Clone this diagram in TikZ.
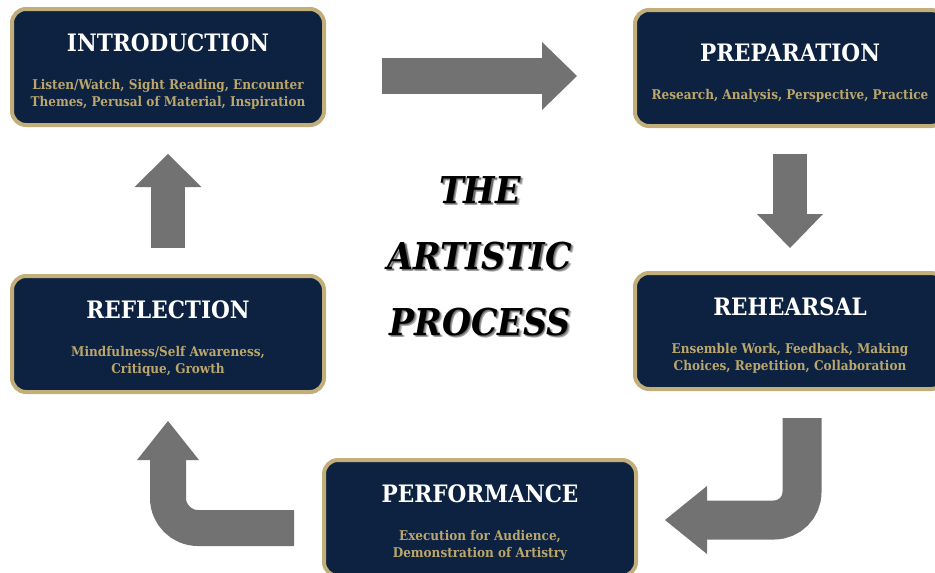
\documentclass[tikz,border=0pt]{standalone}
\usepackage{fontspec}
\usetikzlibrary{arrows.meta}
\newfontfamily\boxfont{DejaVu Serif Condensed}
\definecolor{navy}{HTML}{0C2240}
\definecolor{gold}{HTML}{C2AE78}
\definecolor{goldtext}{HTML}{BBA66C}
\definecolor{arrowgray}{HTML}{727272}
% white stage name; the strut pushes the text block a little down in its box
\newcommand{\stagetitle}[1]{{\fontsize{24}{26}\selectfont\color{white}\rule{0pt}{27pt}#1}}
\begin{document}
\begin{tikzpicture}[x=1pt,y=-1pt]
  \tikzset{stage/.style={draw=gold,fill=navy,line width=4pt,rounded corners=14pt,
      minimum width=312pt,minimum height=116pt,align=center,inner sep=0pt,
      font=\boxfont\fontsize{13.4}{17}\selectfont\bfseries\color{goldtext}},
    bigarrow/.style={draw=arrowgray,line cap=butt,line join=miter,rounded corners=#1},
    bigarrow/.default=0pt,
    heading/.style={align=center,font=\boxfont\fontsize{37}{66}\selectfont\bfseries\itshape}}
  \useasboundingbox (0,0) rectangle (935,573);
  \node[stage] (intro) at (168,67) {\stagetitle{INTRODUCTION}\\[21pt]
    Listen/Watch, Sight Reading, Encounter\\
    Themes, Perusal of Material, Inspiration};
  \node[stage,minimum width=310pt] (prep) at (790,68) {\stagetitle{PREPARATION}\\[21pt]
    Research, Analysis, Perspective, Practice};
  \node[stage,minimum width=310pt] (reh) at (790,331) {\stagetitle{REHEARSAL}\\[21pt]
    Ensemble Work, Feedback, Making\\
    Choices, Repetition, Collaboration};
  \node[stage] (refl) at (168,334) {\stagetitle{REFLECTION}\\[21pt]
    Mindfulness/Self Awareness,\\
    Critique, Growth};
  \node[stage] (perf) at (480,518) {\stagetitle{PERFORMANCE}\\[21pt]
    Execution for Audience,\\
    Demonstration of Artistry};
  % heading in the middle, with a soft drop shadow
  \foreach \dx/\op in {2.6/0.15,1.8/0.25,1.1/0.35}
    \node[heading,text=black,opacity=\op] (shade) at (480+\dx,256+\dx)
      {THE\\ARTISTIC\\PROCESS};
  \node[heading] (title) at (480,256) {THE\\ARTISTIC\\PROCESS};
  % arrow ends
  \coordinate (a1) at (382,76);  \coordinate (a2) at (577,76);
  \coordinate (b1) at (790,154); \coordinate (b2) at (790,248);
  \coordinate (c1) at (802,418); \coordinate (c2) at (802,520); \coordinate (c3) at (665,520);
  \coordinate (d1) at (294,528); \coordinate (d2) at (168,528); \coordinate (d3) at (168,421);
  \coordinate (e1) at (168,248); \coordinate (e2) at (168,154);
  \draw[bigarrow,line width=36pt,-{Triangle[width=68pt,length=35pt,line width=0pt,fill=arrowgray]}] (a1) -- (a2);
  \draw[bigarrow,line width=34pt,-{Triangle[width=66pt,length=34pt,line width=0pt,fill=arrowgray]}] (b1) -- (b2);
  \draw[bigarrow=28pt,line width=39pt,-{Triangle[width=68pt,length=42pt,line width=0pt,fill=arrowgray]}] (c1) -- (c2) -- (c3);
  \draw[bigarrow=30pt,line width=36pt,-{Triangle[width=62pt,length=39pt,line width=0pt,fill=arrowgray]}] (d1) -- (d2) -- (d3);
  \draw[bigarrow,line width=34pt,-{Triangle[width=67pt,length=33pt,line width=0pt,fill=arrowgray]}] (e1) -- (e2);
\end{tikzpicture}
\end{document}
